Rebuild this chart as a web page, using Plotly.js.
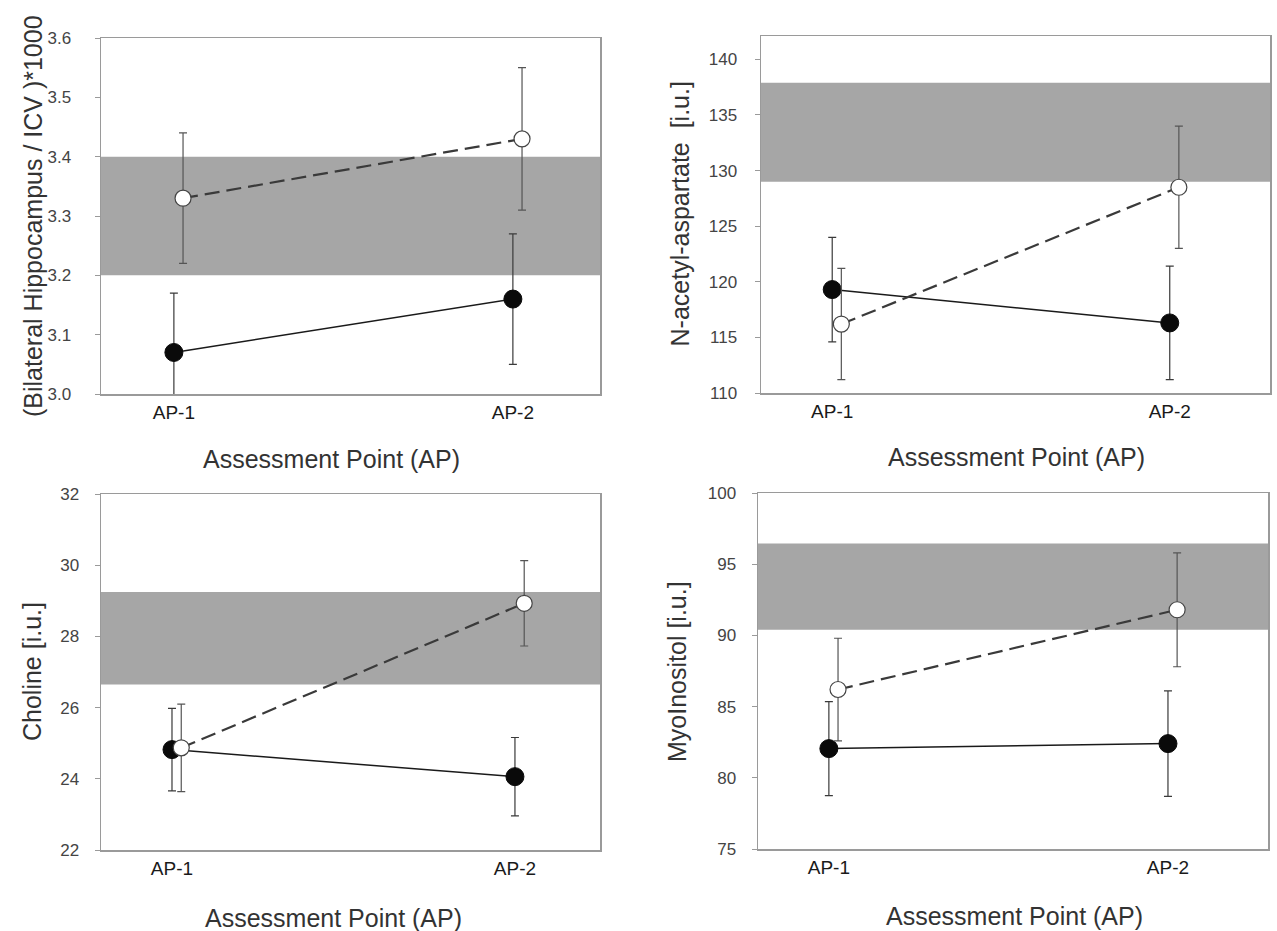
<!DOCTYPE html>
<html>
<head>
<meta charset="utf-8">
<script src="https://cdn.plot.ly/plotly-3.0.1.min.js"></script>
<style>html,body{margin:0;padding:0;background:#fff;}#chart{width:1277px;height:931px;}</style>
</head>
<body>
<div id="chart"></div>
<script>
// ---- data ----
const categories = ['AP-1', 'AP-2'];
const xTitle = 'Assessment Point (AP)';

// Panel A: hippocampus volume
const hippoTitle = '(Bilateral Hippocampus / ICV )*1000';
const hippoSolid = [3.07, 3.16];
const hippoSolidErr = [0.10, 0.11];
const hippoOpen = [3.33, 3.43];
const hippoOpenErr = [0.11, 0.12];
const hippoBand = [3.2, 3.4];

// Panel B: N-acetyl-aspartate
const naaTitle = 'N-acetyl-aspartate  [i.u.]';
const naaSolid = [119.3, 116.3];
const naaSolidErr = [4.7, 5.1];
const naaOpen = [116.2, 128.5];
const naaOpenErr = [5.0, 5.5];
const naaBand = [129.0, 137.9];

// Panel C: choline
const choTitle = 'Choline [i.u.]';
const choSolid = [24.82, 24.06];
const choSolidErr = [1.16, 1.10];
const choOpen = [24.87, 28.93];
const choOpenErr = [1.23, 1.20];
const choBand = [26.65, 29.25];

// Panel D: myo-inositol
const miTitle = 'MyoInositol [i.u.]';
const miSolid = [82.05, 82.4];
const miSolidErr = [3.3, 3.7];
const miOpen = [86.2, 91.8];
const miOpenErr = [3.6, 4.0];
const miBand = [90.4, 96.45];

// ---- layout helpers (positions only) ----
const W = 1277, H = 931;
const px = v => v / W;
const py = v => 1 - v / H;
const catPos = categories.map((c, i) => i + 1);
const openShift = 0.027;

const panels = [
  {title: hippoTitle, solid: hippoSolid, solidErr: hippoSolidErr, open: hippoOpen, openErr: hippoOpenErr, band: hippoBand,
   box: [101, 600, 38, 394], xr: [0.785, 2.257], yr: [3.0, 3.6], dtick: 0.1, fmt: '.1f', stand: 20, ytx: 33, xtx: 331, xty: 459},
  {title: naaTitle, solid: naaSolid, solidErr: naaSolidErr, open: naaOpen, openErr: naaOpenErr, band: naaBand,
   box: [761, 1270, 36, 393], xr: [0.789, 2.297], yr: [110, 142.1], dtick: 5, fmt: 'd', stand: 14, ytx: 680, xtx: 1016, xty: 457},
  {title: choTitle, solid: choSolid, solidErr: choSolidErr, open: choOpen, openErr: choOpenErr, band: choBand,
   box: [101, 600, 494, 850], xr: [0.793, 2.248], yr: [22, 32], dtick: 2, fmt: 'd', stand: 12, ytx: 32, xtx: 333, xty: 918},
  {title: miTitle, solid: miSolid, solidErr: miSolidErr, open: miOpen, openErr: miOpenErr, band: miBand,
   box: [758, 1268, 493, 849], xr: [0.791, 2.295], yr: [75, 100], dtick: 5, fmt: 'd', stand: 12, ytx: 677, xtx: 1014, xty: 916}
];

const FONT = 'Liberation Sans, Arial, Helvetica, sans-serif';
const traces = [];
const layout = {
  width: W, height: H,
  margin: {l: 0, r: 0, t: 0, b: 0},
  paper_bgcolor: '#ffffff',
  plot_bgcolor: '#ffffff',
  showlegend: false,
  font: {family: FONT, color: '#333'},
  shapes: [],
  annotations: []
};

panels.forEach((p, i) => {
  const n = i + 1;
  const xa = 'x' + (n === 1 ? '' : n);
  const ya = 'y' + (n === 1 ? '' : n);
  const xkey = 'xaxis' + (n === 1 ? '' : n);
  const ykey = 'yaxis' + (n === 1 ? '' : n);

  layout[xkey] = {
    domain: [px(p.box[0]), px(p.box[1])],
    anchor: ya,
    range: p.xr,
    tickvals: catPos,
    ticktext: categories,
    ticks: '',
    ticklabelstandoff: 1,
    showgrid: false, zeroline: false,
    showline: true, mirror: true, linecolor: '#9a9a9a', linewidth: 1.5,
    tickfont: {size: 19, color: '#1a1a1a', family: FONT}
  };
  layout[ykey] = {
    domain: [py(p.box[3]), py(p.box[2])],
    anchor: xa,
    range: p.yr,
    dtick: p.dtick,
    tick0: p.yr[0],
    tickformat: p.fmt,
    ticks: 'outside', ticklen: 5, tickcolor: '#9a9a9a', tickwidth: 1,
    ticklabelstandoff: p.stand,
    showgrid: false, zeroline: false,
    showline: true, mirror: true, linecolor: '#9a9a9a', linewidth: 1.5,
    tickfont: {size: 17, color: '#444', family: FONT}
  };

  // reference band
  layout.shapes.push({
    type: 'rect', layer: 'below',
    xref: xa + ' domain', yref: ya,
    x0: 0, x1: 1, y0: p.band[0], y1: p.band[1],
    fillcolor: '#a6a6a6', line: {width: 0}
  });

  // solid series (filled circles)
  traces.push({
    type: 'scatter', mode: 'lines+markers',
    x: catPos, y: p.solid, xaxis: xa, yaxis: ya,
    line: {color: '#1a1a1a', width: 1.5},
    marker: {symbol: 'circle', size: 18, color: '#0a0a0a', line: {color: '#0a0a0a', width: 1}},
    error_y: {type: 'data', array: p.solidErr, visible: true, color: '#3a3a3a', thickness: 1.2, width: 4}
  });
  // open series (open circles, dashed)
  traces.push({
    type: 'scatter', mode: 'lines+markers',
    x: catPos.map(v => v + openShift), y: p.open, xaxis: xa, yaxis: ya,
    line: {color: '#3a3a3a', width: 2.2, dash: '15px,7px'},
    marker: {symbol: 'circle', size: 16, color: '#ffffff', line: {color: '#444', width: 1.2}},
    error_y: {type: 'data', array: p.openErr, visible: true, color: '#555', thickness: 1.2, width: 4}
  });

  // axis titles
  layout.annotations.push({
    xref: 'paper', yref: 'paper',
    x: px(p.ytx), y: py((p.box[2] + p.box[3]) / 2),
    xanchor: 'center', yanchor: 'middle', textangle: -90,
    text: p.title, showarrow: false,
    font: {size: 25, color: '#333', family: FONT}
  });
  layout.annotations.push({
    xref: 'paper', yref: 'paper',
    x: px(p.xtx), y: py(p.xty),
    xanchor: 'center', yanchor: 'middle',
    text: xTitle, showarrow: false,
    font: {size: 25, color: '#333', family: FONT}
  });
});

Plotly.newPlot('chart', traces, layout, {displayModeBar: false, staticPlot: true});
</script>
</body>
</html>
